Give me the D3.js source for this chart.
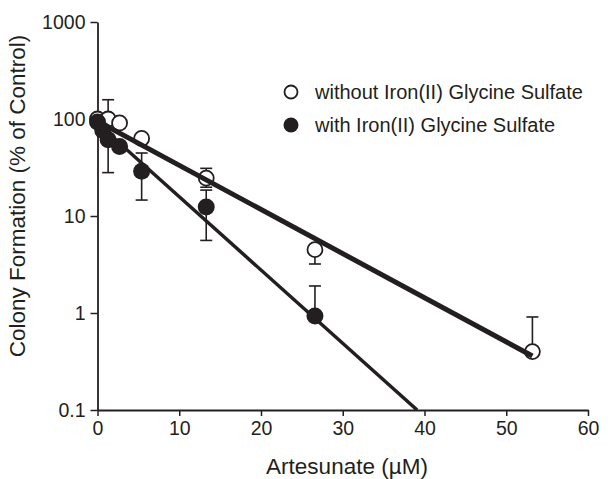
<!DOCTYPE html>
<html>
<head>
<meta charset="utf-8">
<script src="https://cdn.jsdelivr.net/npm/d3@7"></script>
<style>
  html, body { margin: 0; padding: 0; background: #fff; }
  svg { display: block; font-family: "Liberation Sans", Arial, sans-serif; }
</style>
</head>
<body>
<svg id="chart" width="613" height="479"></svg>
<script>
// ---- data ----
const seriesNames = ["without Iron(II) Glycine Sulfate", "with Iron(II) Glycine Sulfate"];

const withoutX    = [0, 1.3, 2.7, 5.4, 13.3, 26.6, 53.2];
const withoutY    = [100, 100, 91, 63, 24.6, 4.5, 0.40];
const withoutHigh = [null, 158, null, null, 31, null, 0.91];
const withoutLow  = [null, null, null, null, 19.8, 3.2, null];

const withX    = [0, 0.65, 1.3, 2.7, 5.4, 13.3, 26.6];
const withY    = [93, 76, 61, 52, 29, 12.4, 0.93];
const withHigh = [null, null, null, null, 44.6, 18.5, 1.9];
const withLow  = [null, null, 28, null, 14.6, 5.6, null];

// regression line end points (data units)
const fitWithoutX = [0, 53.2];
const fitWithoutY = [95, 0.36];
const fitWithX    = [0, 39.1];
const fitWithY    = [90, 0.1];

const xTicks = [0, 10, 20, 30, 40, 50, 60];
const yTicks = [0.1, 1, 10, 100, 1000];
const yTickLabels = ["0.1", "1", "10", "100", "1000"];

// ---- layout ----
const svg = d3.select("#chart");
const pLeft = 97.5, pRight = 588, pTop = 22, pBottom = 410;
const ink = "#231f20";
const FONT = "'Liberation Sans', Arial, sans-serif";

const x = d3.scaleLinear().domain([0, 60]).range([pLeft, pRight]);
const y = d3.scaleLog().domain([0.1, 1000]).range([pBottom, pTop]);

// axes
const xAxis = svg.append("g").attr("transform", `translate(0,${pBottom})`)
  .call(d3.axisBottom(x).tickValues(xTicks).tickSize(6).tickSizeOuter(0).tickPadding(4));
const yAxis = svg.append("g").attr("transform", `translate(${pLeft},0)`)
  .call(d3.axisLeft(y).tickValues(yTicks).tickFormat((d, i) => yTickLabels[i]).tickSize(7).tickSizeOuter(0).tickPadding(5));

[xAxis, yAxis].forEach(g => {
  g.select(".domain").attr("stroke", ink).attr("stroke-width", 1.8);
  g.selectAll(".tick line").attr("stroke", ink).attr("stroke-width", 1.5);
  g.selectAll(".tick text").attr("fill", ink).style("font-size", "19.5px")
    .style("font-family", FONT);
});
yAxis.selectAll(".tick text").attr("dy", "0.35em");
xAxis.selectAll(".tick text").attr("dy", "0.75em");

// titles
svg.append("text").attr("x", 347).attr("y", 474)
  .attr("text-anchor", "middle").attr("fill", ink).style("font-size", "22.5px")
  .style("font-family", FONT).text("Artesunate (µM)");
svg.append("text").attr("transform", `translate(25,196) rotate(-90)`)
  .attr("text-anchor", "middle").attr("fill", ink).style("font-size", "22.5px")
  .style("font-family", FONT).text("Colony Formation (% of Control)");

// clip
svg.append("clipPath").attr("id", "plotclip").append("rect")
  .attr("x", pLeft).attr("y", pTop - 10).attr("width", pRight - pLeft + 10).attr("height", pBottom - pTop + 10);

const line = d3.line().x(d => x(d[0])).y(d => y(d[1]));
const plot = svg.append("g");

// error bars
function errorBars(xs, ys, hi, lo) {
  const g = plot.append("g").attr("stroke", ink).attr("stroke-width", 1.6);
  xs.forEach((xv, i) => {
    [hi[i], lo[i]].forEach(e => {
      if (e == null) return;
      g.append("line").attr("x1", x(xv)).attr("x2", x(xv)).attr("y1", y(ys[i])).attr("y2", y(e));
      g.append("line").attr("x1", x(xv) - 6).attr("x2", x(xv) + 6).attr("y1", y(e)).attr("y2", y(e));
    });
  });
}
errorBars(withoutX, withoutY, withoutHigh, withoutLow);
errorBars(withX, withY, withHigh, withLow);

// regression line (with iron)
plot.append("path").datum(fitWithX.map((v, i) => [v, fitWithY[i]]))
  .attr("d", line).attr("fill", "none").attr("stroke", ink).attr("stroke-width", 3.5)
  .attr("clip-path", "url(#plotclip)");

// open points
plot.append("g").selectAll("circle").data(withoutX.map((v, i) => [v, withoutY[i]]))
  .join("circle").attr("cx", d => x(d[0])).attr("cy", d => y(d[1])).attr("r", 7.5)
  .attr("fill", "#fff").attr("stroke", ink).attr("stroke-width", 1.8);

// regression line (without iron)
plot.append("path").datum(fitWithoutX.map((v, i) => [v, fitWithoutY[i]]))
  .attr("d", line).attr("fill", "none").attr("stroke", ink).attr("stroke-width", 5)
  .attr("clip-path", "url(#plotclip)");

// filled points
plot.append("g").selectAll("circle").data(withX.map((v, i) => [v, withY[i]]))
  .join("circle").attr("cx", d => x(d[0])).attr("cy", d => y(d[1])).attr("r", 8.5)
  .attr("fill", ink);

// legend
const legend = svg.append("g");
const legY = [92, 125];
legend.append("circle").attr("cx", 291).attr("cy", legY[0]).attr("r", 6.5)
  .attr("fill", "#fff").attr("stroke", ink).attr("stroke-width", 1.8);
legend.append("circle").attr("cx", 291).attr("cy", legY[1]).attr("r", 7.5).attr("fill", ink);
seriesNames.forEach((name, i) => {
  legend.append("text").attr("x", 315).attr("y", legY[i]).attr("dy", "0.35em")
    .attr("fill", ink).style("font-size", "20px").style("font-family", FONT).text(name);
});
</script>
</body>
</html>
